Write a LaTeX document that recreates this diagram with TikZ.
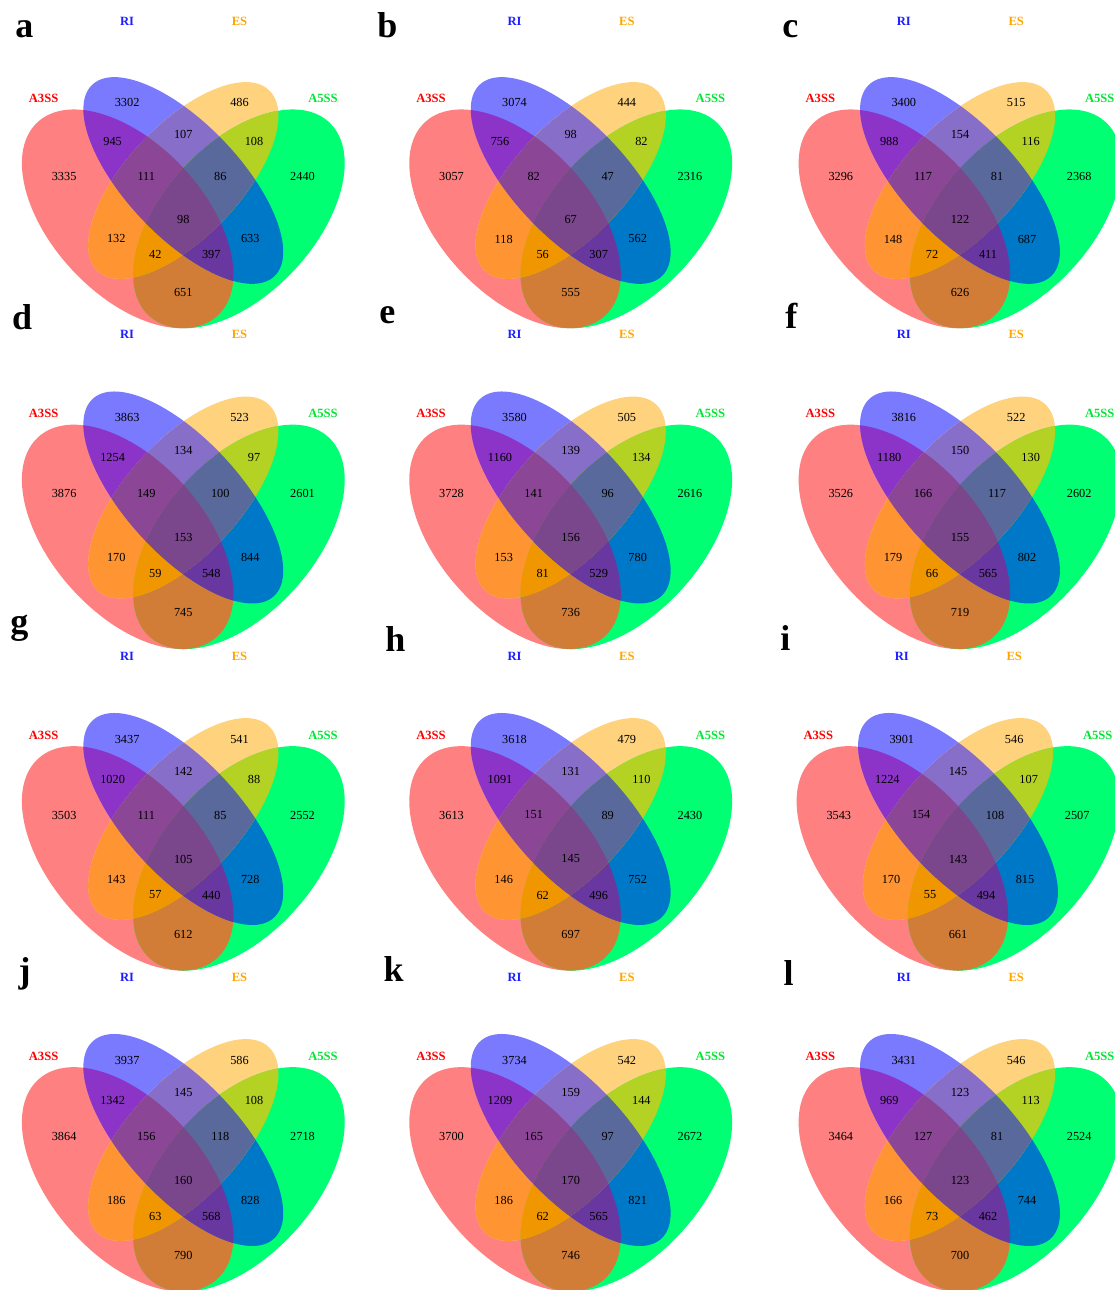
\documentclass[tikz,border=0pt]{standalone}
\usepackage{fontspec}
\setmainfont{Liberation Serif}
\usepackage{xcolor}
\usepackage{tikz}
% set colours (one per region of the four-set diagram)
\definecolor{fillA3}{RGB}{255,128,128}
\definecolor{fillRI}{RGB}{122,122,255}
\definecolor{fillES}{RGB}{255,210,125}
\definecolor{fillA5}{RGB}{0,255,115}
\definecolor{fillA3RI}{RGB}{140,52,200}
\definecolor{fillRIES}{RGB}{135,110,200}
\definecolor{fillESA5}{RGB}{180,210,35}
\definecolor{fillA3ES}{RGB}{255,148,50}
\definecolor{fillRIA5}{RGB}{0,120,200}
\definecolor{fillA3A5}{RGB}{210,125,55}
\definecolor{fillA3RIES}{RGB}{140,70,150}
\definecolor{fillRIESA5}{RGB}{90,105,155}
\definecolor{fillA3ESA5}{RGB}{240,150,0}
\definecolor{fillA3RIA5}{RGB}{105,55,160}
\definecolor{fillAll}{RGB}{122,70,140}
\definecolor{labRed}{RGB}{255,0,0}
\definecolor{labBlue}{RGB}{30,30,255}
\definecolor{labOrange}{RGB}{255,165,0}
\definecolor{labGreen}{RGB}{0,230,50}
\tikzset{
  vennNum/.style={inner sep=0pt, text=black, font=\fontsize{6.15}{7}\selectfont},
  setLabel/.style={inner sep=0pt, font=\fontsize{6.3}{7}\selectfont\bfseries},
  panelLetter/.style={inner sep=0pt, anchor=base west, font=\fontsize{18}{20}\selectfont\bfseries}
}
% the four ellipses, in units of the diagram
\newcommand\pA{[rotate around={-45:(-0.15,-0.1)}] (-0.15,-0.1) ellipse (0.35 and 0.2)}
\newcommand\pB{[rotate around={-45:(0,0)}] (0,0) ellipse (0.35 and 0.15)}
\newcommand\pC{[rotate around={45:(0,0)}] (0,0) ellipse (0.33 and 0.15)}
\newcommand\pD{[rotate around={45:(0.15,-0.1)}] (0.15,-0.1) ellipse (0.35 and 0.2)}
\newcommand\vreg[3]{\begin{scope}#1\fill[#3]#2;\end{scope}}
\newcommand\vennShapes{%
  \fill[fillA3]\pA; \fill[fillRI]\pB; \fill[fillES]\pC; \fill[fillA5]\pD;
  \vreg{\clip\pA;}{\pB}{fillA3RI}
  \vreg{\clip\pA;}{\pC}{fillA3ES}
  \vreg{\clip\pA;}{\pD}{fillA3A5}
  \vreg{\clip\pB;}{\pC}{fillRIES}
  \vreg{\clip\pB;}{\pD}{fillRIA5}
  \vreg{\clip\pC;}{\pD}{fillESA5}
  \vreg{\clip\pA;\clip\pB;}{\pC}{fillA3RIES}
  \vreg{\clip\pA;\clip\pB;}{\pD}{fillA3RIA5}
  \vreg{\clip\pA;\clip\pC;}{\pD}{fillA3ESA5}
  \vreg{\clip\pB;\clip\pC;}{\pD}{fillRIESA5}
  \vreg{\clip\pA;\clip\pB;\clip\pC;}{\pD}{fillAll}}
% #1 id, #2/#3 centre, #4 vertical squeeze, #5 the 15 counts
\newcommand\vennPanel[5]{%
  \begin{scope}[shift={(#2,1290-#3)}, yscale=#4]
    \begin{scope}[xscale=371, yscale=393.6]
      \vennShapes
    \end{scope}
    \foreach \x/\y [count=\k] in {-56.2/79.7, 56.2/79.7, -70.7/39.7, 0/47.3, 70.7/39.7,
        -119.2/4, -37/4, 37/4, 119.2/4, 0/-40,
        -67/-60, 67/-60, -28/-76, 28/-76, 0/-115.3}
      \coordinate (#1-p\k) at (\x,\y);
    \foreach \n [count=\i] in {#5}
      \node[vennNum] (#1-n\i) at (#1-p\i) {\n};
    \node[setLabel, text=labRed] (#1-A3SS) at (-139.7,84) {A3SS};
    \node[setLabel, text=labBlue] (#1-RI) at (-56.2,163) {RI};
    \node[setLabel, text=labOrange] (#1-ES) at (56.2,163) {ES};
    \node[setLabel, text=labGreen] (#1-A5SS) at (139.7,84) {A5SS};
  \end{scope}}

\begin{document}
\begin{tikzpicture}[x=0.5pt, y=0.5pt]
  \useasboundingbox (0,0) rectangle (1115,1290);
  \clip (0,0) rectangle (1115,1290);

  \vennPanel{a}{183.3}{180.5}{0.975}{3302,486,945,107,108,3335,111,86,2440,98,132,633,42,397,651}
  \vennPanel{b}{570.7}{180.5}{0.975}{3074,444,756,98,82,3057,82,47,2316,67,118,562,56,307,555}
  \vennPanel{c}{960}{180.5}{0.975}{3400,515,988,154,116,3296,117,81,2368,122,148,687,72,411,626}

  \vennPanel{d}{183.3}{497.5}{1}{3863,523,1254,134,97,3876,149,100,2601,153,170,844,59,548,745}
  \vennPanel{e}{570.7}{497.5}{1}{3580,505,1160,139,134,3728,141,96,2616,156,153,780,81,529,736}
  \vennPanel{f}{960}{497.5}{1}{3816,522,1180,150,130,3526,166,117,2602,155,179,802,66,565,719}

  \vennPanel{g}{183.3}{819}{1}{3437,541,1020,142,88,3503,111,85,2552,105,143,728,57,440,612}
  \vennPanel{h}{570.7}{819}{1}{3618,479,1091,131,110,3613,151,89,2430,145,146,752,62,496,697}
  \vennPanel{i}{958}{819}{1}{3901,546,1224,145,107,3543,154,108,2507,143,170,815,55,494,661}

  \vennPanel{j}{183.3}{1140}{1}{3937,586,1342,145,108,3864,156,118,2718,160,186,828,63,568,790}
  \vennPanel{k}{570.7}{1140}{1}{3734,542,1209,159,144,3700,165,97,2672,170,186,821,62,565,746}
  \vennPanel{l}{960}{1140}{1}{3431,546,969,123,113,3464,127,81,2524,123,166,744,73,462,700}

  % panel letters
  \node[panelLetter] (letA) at (15,1290-38) {a};
  \node[panelLetter] (letB) at (377,1290-38) {b};
  \node[panelLetter] (letC) at (782,1290-37.7) {c};
  \node[panelLetter] (letD) at (11.7,1290-330) {d};
  \node[panelLetter] (letE) at (379,1290-323.3) {e};
  \node[panelLetter] (letF) at (785,1290-328.3) {f};
  \node[panelLetter] (letG) at (10,1290-634) {g};
  \node[panelLetter] (letH) at (385,1290-651.7) {h};
  \node[panelLetter] (letI) at (780,1290-650.7) {i};
  \node[panelLetter] (letJ) at (18.3,1290-983) {j};
  \node[panelLetter] (letK) at (383.3,1290-981.7) {k};
  \node[panelLetter] (letL) at (783.3,1290-985.7) {l};
\end{tikzpicture}
\end{document}
